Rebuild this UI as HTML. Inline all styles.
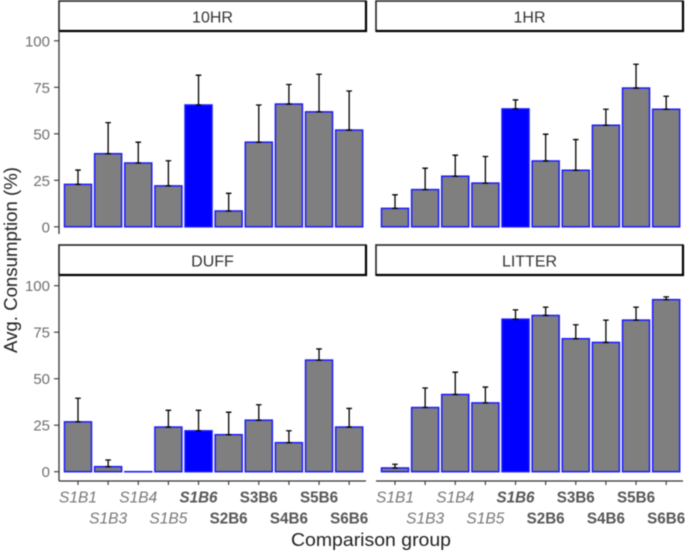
<!DOCTYPE html>
<html>
<head>
<meta charset="utf-8">
<style>
html,body{margin:0;padding:0;background:#fff;width:685px;height:551px;overflow:hidden}
svg{display:block;filter:blur(0.45px)}
text{font-family:"Liberation Sans",sans-serif}
</style>
</head>
<body>
<svg id="chart" width="685" height="551" viewBox="0 0 685 551" xmlns="http://www.w3.org/2000/svg"></svg>
<script>
const categories = ["S1B1","S1B3","S1B4","S1B5","S1B6","S2B6","S3B6","S4B6","S5B6","S6B6"];
const yTicks = [0,25,50,75,100];
const panelTitles = ["10HR","1HR","DUFF","LITTER"];
const values10hr = [22.8,39.3,34.3,22,65.5,8.5,45.5,66,61.8,52];
const upper10hr = [30.5,56,45.5,35.5,81.5,18,65.5,76.5,82,73];
const values1hr = [9.9,20,27.2,23.5,63.4,35.4,30.4,54.6,74.6,63.2];
const upper1hr = [17.2,31.5,38.5,37.8,68.2,49.8,46.9,63.2,87.4,70.2];
const valuesDuff = [26.8,2.7,0,24,22,19.9,27.7,15.6,60,24];
const upperDuff = [39.5,6.3,0,33,33,32,36,22,66,34];
const valuesLitter = [2,34.5,41.5,37,82,84,71.5,69.5,81.5,92.5];
const upperLitter = [4,45,53.5,45.5,87,88.5,79,81.5,88.5,94];
const highlightCategory = "S1B6";

const svg = document.getElementById('chart');
const NS = 'http://www.w3.org/2000/svg';
function mk(tag, attrs, parent){
  const el = document.createElementNS(NS, tag);
  for (const k in attrs) el.setAttribute(k, attrs[k]);
  (parent || svg).appendChild(el);
  return el;
}
const panelSeries = [
  {vals: values10hr, up: upper10hr, left: 59, strip: 1, zero: 226.8, axisBottom: 234, bottomRow: false},
  {vals: values1hr, up: upper1hr, left: 376, strip: 1, zero: 226.8, axisBottom: 234, bottomRow: false},
  {vals: valuesDuff, up: upperDuff, left: 59, strip: 245, zero: 471.7, axisBottom: 481, bottomRow: true},
  {vals: valuesLitter, up: upperLitter, left: 376, strip: 245, zero: 471.7, axisBottom: 481, bottomRow: true}
];
const PANEL_W = 307, STRIP_H = 30, UNIT = 1.86, STEP = 30.13, BAR_W = 27;

panelSeries.forEach(function(p, pi){
  const xScale = function(i){ return p.left + 19 + STEP * i; };
  const yScale = function(v){ return p.zero - UNIT * v; };
  const g = mk('g', {});
  
  

  const strip = mk('rect', {x: p.left, y: p.strip, width: PANEL_W, height: STRIP_H, fill: '#fff', stroke: '#222', 'stroke-width': 1.6}, g);
  
  
  const stripEdge = mk('path', {d: 'M' + p.left + ' ' + (p.strip + STRIP_H) + 'H' + (p.left + PANEL_W) + 'V' + p.strip, fill: 'none', stroke: '#000', 'stroke-width': 2.2}, g);
  
  
  const stripText = mk('text', {x: p.left + PANEL_W / 2, y: p.strip + 21.5, 'text-anchor': 'middle', 'font-size': 16, fill: '#333'}, g);
  stripText.textContent = panelTitles[pi];
  
  

  categories.forEach(function(c, i){
    const x = xScale(i);
    const top = yScale(p.vals[i]);
    const hi = c === highlightCategory;
    const bar = mk('rect', {x: x - BAR_W / 2, y: top, width: BAR_W, height: Math.max(p.zero - top, 0.1), fill: hi ? '#0000ff' : '#7f7f7f', stroke: '#1a1aff', 'stroke-width': 1.5}, g);
    
    
    if (p.up[i] > p.vals[i]) {
      const uy = yScale(p.up[i]);
      const err = mk('path', {d: 'M' + x + ' ' + top + 'V' + uy + 'M' + (x - 2.8) + ' ' + uy + 'H' + (x + 2.8) + 'M' + (x - 2.8) + ' ' + top + 'H' + (x + 2.8), fill: 'none', stroke: '#000', 'stroke-width': 1.3}, g);
      
      
    }
  });

  if (p.left === 59) {
    const yAxis = mk('line', {x1: p.left, x2: p.left, y1: p.strip + STRIP_H, y2: p.axisBottom, stroke: '#333', 'stroke-width': 1.3}, g);
    
    
    yTicks.forEach(function(t){
      const y = yScale(t);
      const tick = mk('line', {x1: p.left - 5, x2: p.left, y1: y, y2: y, stroke: '#333', 'stroke-width': 1.1}, g);
      
      
      const label = mk('text', {x: p.left - 9, y: y + 5.5, 'text-anchor': 'end', 'font-size': 15, fill: '#6f6f6f'}, g);
      label.textContent = t;
      
      
    });
  }

  if (p.bottomRow) {
    const xAxis = mk('line', {x1: p.left, x2: p.left + PANEL_W, y1: p.axisBottom, y2: p.axisBottom, stroke: '#333', 'stroke-width': 1.3}, g);
    
    
    categories.forEach(function(c, i){
      const x = xScale(i);
      const tick = mk('line', {x1: x, x2: x, y1: p.axisBottom, y2: p.axisBottom + 4, stroke: '#333', 'stroke-width': 1.1}, g);
      
      
      const firstHalf = i < 4;
      const hi = c === highlightCategory;
      const attrs = {x: x, y: i % 2 === 0 ? 502.5 : 523.5, 'text-anchor': 'middle', 'font-size': 15.5,
        textLength: 38, lengthAdjust: 'spacingAndGlyphs',
        fill: firstHalf ? '#777777' : '#555555'};
      if (firstHalf || hi) attrs['font-style'] = 'italic';
      if (!firstHalf) attrs['font-weight'] = 'bold';
      const label = mk('text', attrs, g);
      label.textContent = c;
      
      
    });
  }
});

const xTitle = mk('text', {x: 371, y: 546, 'text-anchor': 'middle', 'font-size': 18.5, textLength: 160, lengthAdjust: 'spacingAndGlyphs', fill: '#222'});
xTitle.textContent = 'Comparison group';


const yTitle = mk('text', {x: 0, y: 0, transform: 'translate(17,260) rotate(-90)', 'text-anchor': 'middle', 'font-size': 18.5, textLength: 186, lengthAdjust: 'spacingAndGlyphs', fill: '#222'});
yTitle.textContent = 'Avg. Consumption (%)';


</script>
</body>
</html>
